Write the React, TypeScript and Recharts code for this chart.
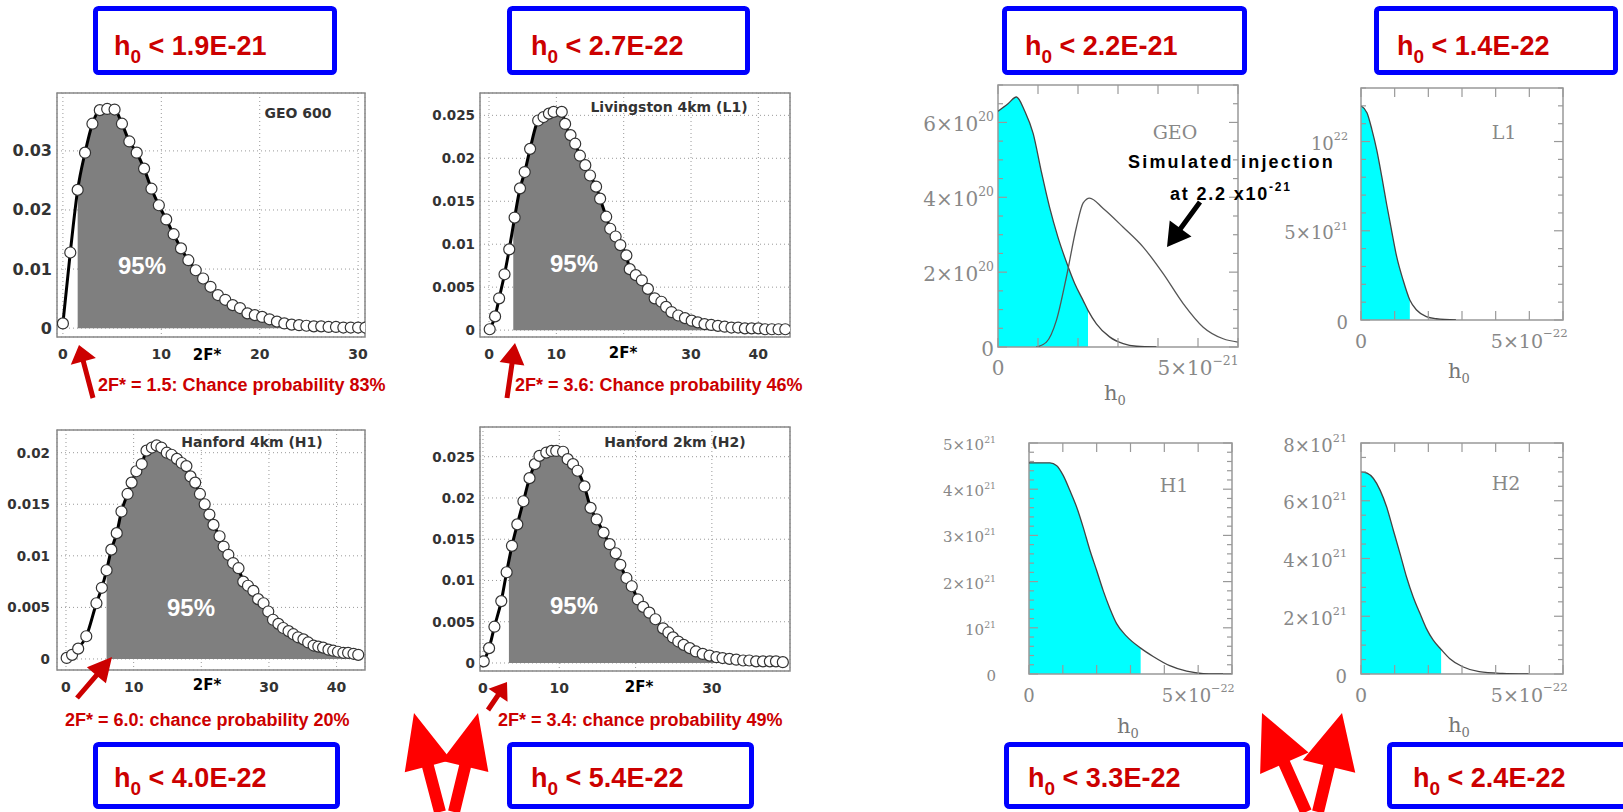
import React from 'react';
import { ComposedChart, Line, Area, XAxis, YAxis, CartesianGrid, ReferenceArea } from 'recharts';

// ---------- DATA: left column, distributions of 2F* (pairs [2F*, probability]) ----------
const geo600Points: [number, number][] = [
  [0, 0.0008], [0.75, 0.0128], [1.5, 0.0234], [2.25, 0.0297], [3, 0.0346], [3.75, 0.0369], [4.5, 0.0371],
  [5.25, 0.037], [6, 0.0346], [6.75, 0.0316], [7.5, 0.0297], [8.25, 0.027], [9, 0.0236], [9.75, 0.0208],
  [10.5, 0.0184], [11.25, 0.0159], [12, 0.0135], [12.75, 0.0115], [13.5, 0.0098], [14.25, 0.0084], [15, 0.007],
  [15.75, 0.0056], [16.5, 0.0048], [17.25, 0.0039], [18, 0.0034], [18.75, 0.0025], [19.5, 0.0022], [20.25, 0.0019],
  [21, 0.0015], [21.75, 0.0011], [22.5, 0.0008], [23.25, 0.0006], [24, 0.0005], [24.75, 0.0004], [25.5, 0.0003],
  [26.25, 0.0003], [27, 0.0002], [27.75, 0.0002], [28.5, 0.0001], [29.25, 0.0001], [30, 0.0001], [30.75, 0.0001],
];
const l1Points: [number, number][] = [
  [0.1, 0.0001], [0.9, 0.0016], [1.5, 0.0037], [2.3, 0.0065], [3.0, 0.0094], [3.8, 0.0131], [4.6, 0.0165],
  [5.3, 0.0184], [6.1, 0.0211], [7.3, 0.0244], [8.1, 0.0248], [8.9, 0.0252], [9.6, 0.0254], [10.8, 0.0254],
  [11.3, 0.024], [12.1, 0.0227], [12.8, 0.0217], [13.5, 0.0203], [14.3, 0.0192], [15.0, 0.018], [15.9, 0.0167],
  [16.5, 0.0153], [17.4, 0.0132], [18.0, 0.0118], [18.8, 0.0109], [19.5, 0.0099], [20.4, 0.0087], [20.9, 0.0071],
  [21.8, 0.0064], [22.7, 0.0058], [23.6, 0.0048], [24.6, 0.0037], [25.6, 0.0033], [26.3, 0.0027], [27.1, 0.0021],
  [28.1, 0.0017], [29.1, 0.0014], [30.1, 0.0011], [31.0, 0.0009], [32.0, 0.0007], [33.0, 0.0006], [34.0, 0.0005],
  [35.0, 0.0004], [36.0, 0.0003], [37.0, 0.0003], [38.0, 0.0002], [39.0, 0.0002], [40.0, 0.0002], [41.0, 0.0001],
  [42.0, 0.0001], [43.0, 0.0001], [44.0, 0.0001],
];
const h1Points: [number, number][] = [
  [0.1, 0.0001], [0.9, 0.0004], [1.8, 0.001], [3.0, 0.0022], [4.5, 0.0054], [5.3, 0.0069], [6.0, 0.0086],
  [6.7, 0.0106], [7.5, 0.0122], [8.2, 0.0143], [9.1, 0.016], [9.7, 0.0171], [10.4, 0.0182], [11.2, 0.0189],
  [11.9, 0.0202], [12.7, 0.0205], [13.4, 0.0207], [14.1, 0.0205], [14.9, 0.02], [15.6, 0.0198], [16.4, 0.0194],
  [17.1, 0.019], [17.8, 0.0187], [18.4, 0.0177], [19.1, 0.0171], [19.8, 0.016], [20.5, 0.015], [21.2, 0.014],
  [21.8, 0.013], [22.7, 0.0119], [23.3, 0.0109], [24.0, 0.0101], [24.7, 0.0093], [25.5, 0.0088], [26.2, 0.0075],
  [26.9, 0.0071], [27.7, 0.0066], [28.4, 0.0058], [29.2, 0.0054], [29.9, 0.0046], [30.6, 0.0038], [31.4, 0.0034],
  [32.1, 0.003], [32.9, 0.0027], [33.6, 0.0024], [34.3, 0.0021], [35.1, 0.0019], [35.8, 0.0016], [36.6, 0.0013],
  [37.3, 0.0012], [38.0, 0.0011], [38.8, 0.0009], [39.5, 0.0008], [40.2, 0.0007], [41.0, 0.0006], [41.7, 0.0006],
  [42.5, 0.0005], [43.2, 0.0004],
];
const h2Points: [number, number][] = [
  [0.1, 0.0002], [0.8, 0.0018], [1.5, 0.0044], [2.4, 0.0075], [3.1, 0.011], [3.8, 0.0142], [4.5, 0.0168],
  [5.3, 0.0196], [6.1, 0.0224], [6.8, 0.0241], [7.4, 0.0251], [8.3, 0.0255], [9.0, 0.0257], [9.6, 0.0257],
  [10.5, 0.0256], [11.1, 0.0247], [11.8, 0.0241], [12.4, 0.0233], [13.3, 0.0214], [14.1, 0.0188], [14.9, 0.0174],
  [15.8, 0.0158], [16.6, 0.0144], [17.4, 0.0133], [18.0, 0.0119], [18.8, 0.0103], [19.5, 0.0093], [20.3, 0.0077],
  [21.0, 0.0068], [21.8, 0.0061], [22.6, 0.0053], [23.6, 0.0042], [24.3, 0.0037], [24.9, 0.0031], [25.6, 0.0026],
  [26.3, 0.0022], [27.1, 0.0018], [27.9, 0.0014], [28.8, 0.0011], [29.7, 0.0009], [30.6, 0.0007], [31.4, 0.0006],
  [32.3, 0.0005], [33.2, 0.0004], [34.1, 0.0003], [34.9, 0.0003], [35.8, 0.0002], [36.7, 0.0002], [37.6, 0.0002],
  [38.4, 0.0002], [39.3, 0.0001],
];
// 2F* thresholds (start of shaded 95% area) and curve height there
const geo600Thr: [number, number] = [1.5, 0.0234];
const l1Thr: [number, number] = [3.6, 0.0124];
const h1Thr: [number, number] = [6.0, 0.0086];
const h2Thr: [number, number] = [3.4, 0.0124];

const geo600XTicks = [0, 10, 20, 30];
const geo600XLabels = ['0', '10', '20', '30'];
const geo600YTicks = [0, 0.01, 0.02, 0.03];
const geo600YLabels = ['0', '0.01', '0.02', '0.03'];
const l1XTicks = [0, 10, 20, 30, 40];
const l1XLabels = ['0', '10', '', '30', '40'];
const l1YTicks = [0, 0.005, 0.01, 0.015, 0.02, 0.025];
const l1YLabels = ['0', '0.005', '0.01', '0.015', '0.02', '0.025'];
const h1XTicks = [0, 10, 20, 30, 40];
const h1XLabels = ['0', '10', '', '30', '40'];
const h1YTicks = [0, 0.005, 0.01, 0.015, 0.02];
const h1YLabels = ['0', '0.005', '0.01', '0.015', '0.02'];
const h2XTicks = [0, 10, 20, 30];
const h2XLabels = ['0', '10', '', '30'];
const h2YTicks = [0, 0.005, 0.01, 0.015, 0.02, 0.025];
const h2YLabels = ['0', '0.005', '0.01', '0.015', '0.02', '0.025'];

// ---------- DATA: right column, posteriors of h0 ----------
// GEO: x in 1e-21, y in 1e20
const geoPosterior: [number, number][] = [
  [0, 6.3], [0.25, 6.5], [0.46, 6.68], [0.67, 6.3], [0.88, 5.7], [1.08, 4.7], [1.29, 3.73], [1.5, 2.93],
  [1.71, 2.27], [1.92, 1.69], [2.13, 1.24], [2.25, 0.98], [2.46, 0.62], [2.79, 0.27], [3.13, 0.09], [3.46, 0.02], [3.96, 0],
];
const geoInjection: [number, number][] = [
  [0.96, 0], [1.21, 0.13], [1.46, 0.71], [1.71, 1.87], [1.96, 3.2], [2.13, 3.85], [2.29, 3.98], [2.63, 3.7],
  [3.13, 3.2], [3.63, 2.67], [4.13, 1.96], [4.63, 1.16], [5.13, 0.53], [5.63, 0.22], [6.0, 0.13],
];
const geoUpper = 2.25;
// L1, H1, H2: x in 1e-22, y in 1e21
const l1Posterior: [number, number][] = [
  [0, 12.0], [0.18, 11.6], [0.32, 10.7], [0.47, 9.5], [0.62, 8.0], [0.76, 6.5], [0.91, 5.0], [1.06, 3.55],
  [1.25, 2.24], [1.45, 1.12], [1.65, 0.56], [1.94, 0.19], [2.24, 0.07], [2.82, 0],
];
const l1Upper = 1.45;
const h1Posterior: [number, number][] = [
  [0, 4.57], [0.62, 4.57], [0.82, 4.51], [1.01, 4.3], [1.21, 3.97], [1.41, 3.61], [1.6, 3.18], [1.8, 2.68],
  [2.0, 2.24], [2.19, 1.81], [2.39, 1.42], [2.59, 1.09], [2.88, 0.82], [3.3, 0.56], [3.67, 0.38], [4.16, 0.18],
  [4.66, 0.06], [5.15, 0.01], [6.0, 0],
];
const h1Upper = 3.3;
const h2Posterior: [number, number][] = [
  [0, 7.0], [0.18, 6.96], [0.37, 6.77], [0.57, 6.36], [0.76, 5.79], [0.96, 4.98], [1.16, 4.17], [1.35, 3.37],
  [1.55, 2.67], [1.75, 2.1], [1.94, 1.58], [2.14, 1.18], [2.38, 0.85], [2.63, 0.54], [3.02, 0.25], [3.51, 0.08],
  [4.2, 0.02], [4.98, 0],
];
const h2Upper = 2.38;

const h0XTicks = [0, 1, 2, 3, 4, 5, 6];
const geoXLabels: Record<number, [string, string]> = { 0: ['0', ''], 5: ['5×10', '−21'] };
const smallXLabels: Record<number, [string, string]> = { 0: ['0', ''], 5: ['5×10', '−22'] };
const geoYTicks = [0, 0.5, 1, 1.5, 2, 2.5, 3, 3.5, 4, 4.5, 5, 5.5, 6, 6.5, 7];
const geoYLabels: Record<number, [string, string]> = { 0: ['0', ''], 2: ['2×10', '20'], 4: ['4×10', '20'], 6: ['6×10', '20'] };
const l1YTicksR = [0, 1, 2, 3, 4, 5, 6, 7, 8, 9, 10, 11, 12, 13];
const l1YLabelsR: Record<number, [string, string]> = { 0: ['0', ''], 5: ['5×10', '21'], 10: ['10', '22'] };
const h1YTicksR = [0, 0.2, 0.4, 0.6, 0.8, 1, 1.2, 1.4, 1.6, 1.8, 2, 2.2, 2.4, 2.6, 2.8, 3, 3.2, 3.4, 3.6, 3.8, 4, 4.2, 4.4, 4.6, 4.8, 5];
const h1YLabelsR: Record<number, [string, string]> = {
  0: ['0', ''], 1: ['10', '21'], 2: ['2×10', '21'], 3: ['3×10', '21'], 4: ['4×10', '21'], 5: ['5×10', '21'],
};
const h2YTicksR = [0, 0.5, 1, 1.5, 2, 2.5, 3, 3.5, 4, 4.5, 5, 5.5, 6, 6.5, 7, 7.5, 8];
const h2YLabelsR: Record<number, [string, string]> = { 0: ['0', ''], 2: ['2×10', '21'], 4: ['4×10', '21'], 6: ['6×10', '21'], 8: ['8×10', '21'] };

// ---------- styling ----------
const SANS = "'Liberation Sans', Arial, sans-serif";
const DV = "'DejaVu Sans', sans-serif";
const SERIF = "'DejaVu Serif', serif";

type Frame = { x: number; y: number; w: number; h: number };
const LYW = 60;
const LXH = 40;
const LMT = 12;
const LMR = 24;
const RYW = 100;
const RXH = 50;
const RMT = 16;
const RMR = 36;

const near = (a: number, b: number) => Math.abs(a - b) < 1e-9;

function LeftPanel(props: {
  frame: Frame; xDomain: [number, number]; yDomain: [number, number];
  xTicks: number[]; xLabels: string[]; yTicks: number[]; yLabels: string[];
  points: [number, number][]; thr: [number, number]; yFont: number; yGap: number;
}) {
  const { frame, xDomain, yDomain, xTicks, xLabels, yTicks, yLabels, points, thr, yFont, yGap } = props;
  const lineData = points.map(([x, y]) => ({ x, y }));
  const fillData = [{ x: thr[0], f: thr[1] }, ...points.filter(([x]) => x > thr[0] + 1e-9).map(([x, y]) => ({ x, f: y }))];
  const xTick = (p: any) => {
    const i = xTicks.findIndex((t) => near(t, p.payload.value));
    const lab = i >= 0 ? xLabels[i] : '';
    return (
      <text x={p.x} y={LMT + frame.h + 17} textAnchor="middle" dominantBaseline="central" fontFamily={DV} fontWeight="bold" fontSize={14} fill="#333">
        {lab}
      </text>
    );
  };
  const yTick = (p: any) => {
    const i = yTicks.findIndex((t) => near(t, p.payload.value));
    const lab = i >= 0 ? yLabels[i] : '';
    return (
      <text x={LYW - yGap} y={p.y} textAnchor="end" dominantBaseline="central" fontFamily={DV} fontWeight="bold" fontSize={yFont} fill="#333">
        {lab}
      </text>
    );
  };
  return (
    <div style={{ position: 'absolute', left: frame.x - LYW, top: frame.y - LMT }}>
      <ComposedChart width={frame.w + LYW + LMR} height={frame.h + LXH + LMT} margin={{ top: LMT, right: LMR, bottom: 0, left: 0 }}>
        <CartesianGrid stroke="#999" strokeDasharray="1 3" />
        <XAxis type="number" dataKey="x" domain={xDomain} ticks={xTicks} interval={0} allowDataOverflow axisLine={false} tickLine={false} height={LXH} tick={xTick} />
        <YAxis type="number" domain={yDomain} ticks={yTicks} interval={0} allowDataOverflow axisLine={false} tickLine={false} width={LYW} tick={yTick} />
        <Area data={fillData} dataKey="f" type="monotone" fill="#7f7f7f" fillOpacity={1} stroke="none" baseValue={0} isAnimationActive={false} />
        <Line data={lineData} dataKey="y" type="monotone" stroke="#000" strokeWidth={3}
          dot={{ r: 5.5, fill: '#fff', stroke: '#333', strokeWidth: 1.2, fillOpacity: 1 }} isAnimationActive={false} />
        <ReferenceArea x1={xDomain[0]} x2={xDomain[1]} y1={yDomain[0]} y2={yDomain[1]} fill="none" stroke="#888" strokeWidth={1.5} ifOverflow="visible" />
      </ComposedChart>
    </div>
  );
}

function RightPanel(props: {
  frame: Frame; yMax: number; yTicks: number[]; yLabels: Record<number, [string, string]>;
  xLabels: Record<number, [string, string]>; posterior: [number, number][]; upper: number;
  extra?: [number, number][]; yFont: number; yGap: number; xFont: number;
}) {
  const { frame, yMax, yTicks, yLabels, xLabels, posterior, upper, extra, yFont, yGap, xFont } = props;
  const lineData = posterior.map(([x, y]) => ({ x, y }));
  const fillData = posterior.filter(([x]) => x <= upper + 1e-9).map(([x, y]) => ({ x, f: y }));
  const extraData = extra ? extra.map(([x, y]) => ({ x, y })) : null;
  const findLab = (m: Record<number, [string, string]>, v: number) => {
    const k = Object.keys(m).find((kk) => near(Number(kk), v));
    return k !== undefined ? m[Number(k)] : null;
  };
  const top = RMT;
  const bottom = RMT + frame.h;
  const xTick = (p: any) => {
    const lab = findLab(xLabels, p.payload.value);
    const x = p.x;
    return (
      <g>
        <line x1={x} x2={x} y1={bottom} y2={bottom - 9} stroke="#999" strokeWidth={1.2} />
        <line x1={x} x2={x} y1={top} y2={top + 9} stroke="#999" strokeWidth={1.2} />
        {lab && (
          <text x={x} y={bottom + 21} textAnchor="middle" dominantBaseline="central" fontFamily={SERIF} fontSize={xFont} fill="#888">
            {lab[0]}
            {lab[1] && <tspan dy={-xFont * 0.4} fontSize={xFont * 0.62}>{lab[1]}</tspan>}
          </text>
        )}
      </g>
    );
  };
  const yTick = (p: any) => {
    const lab = findLab(yLabels, p.payload.value);
    const y = p.y;
    const len = lab ? 9 : 5;
    return (
      <g>
        <line x1={RYW} x2={RYW + len} y1={y} y2={y} stroke="#999" strokeWidth={1.2} />
        <line x1={RYW + frame.w - len} x2={RYW + frame.w} y1={y} y2={y} stroke="#999" strokeWidth={1.2} />
        {lab && (
          <text x={RYW - yGap} y={y + 2} textAnchor="end" dominantBaseline="central" fontFamily={SERIF} fontSize={yFont} fill="#888">
            {lab[0]}
            {lab[1] && <tspan dy={-yFont * 0.4} fontSize={yFont * 0.62}>{lab[1]}</tspan>}
          </text>
        )}
      </g>
    );
  };
  return (
    <div style={{ position: 'absolute', left: frame.x - RYW, top: frame.y - RMT }}>
      <ComposedChart width={frame.w + RYW + RMR} height={frame.h + RXH + RMT} margin={{ top: RMT, right: RMR, bottom: 0, left: 0 }}>
        <XAxis type="number" dataKey="x" domain={[0, 6]} ticks={h0XTicks} interval={0} allowDataOverflow axisLine={false} tickLine={false} height={RXH} tick={xTick} />
        <YAxis type="number" domain={[0, yMax]} ticks={yTicks} interval={0} allowDataOverflow axisLine={false} tickLine={false} width={RYW} tick={yTick} />
        <Area data={fillData} dataKey="f" type="monotone" fill="#00ffff" fillOpacity={1} stroke="none" baseValue={0} isAnimationActive={false} />
        <Line data={lineData} dataKey="y" type="monotone" stroke="#444" strokeWidth={1.3} dot={false} isAnimationActive={false} />
        {extraData && (
          <Line data={extraData} dataKey="y" type="monotone" stroke="#555" strokeWidth={1.3} dot={false} isAnimationActive={false} />
        )}
        <ReferenceArea x1={0} x2={6} y1={0} y2={yMax} fill="none" stroke="#999" strokeWidth={1.5} ifOverflow="visible" />
      </ComposedChart>
    </div>
  );
}

function arrowPts(tail: [number, number], tip: [number, number], sw: number, hl: number, hw: number) {
  const dx = tip[0] - tail[0];
  const dy = tip[1] - tail[1];
  const L = Math.hypot(dx, dy);
  const ux = dx / L, uy = dy / L;
  const px = -uy, py = ux;
  const bx = tip[0] - ux * hl, by = tip[1] - uy * hl;
  const pts = [
    [tail[0] + px * sw / 2, tail[1] + py * sw / 2],
    [bx + px * sw / 2, by + py * sw / 2],
    [bx + px * hw / 2, by + py * hw / 2],
    [tip[0], tip[1]],
    [bx - px * hw / 2, by - py * hw / 2],
    [bx - px * sw / 2, by - py * sw / 2],
    [tail[0] - px * sw / 2, tail[1] - py * sw / 2],
  ];
  return pts.map((p) => p.join(',')).join(' ');
}

function BlueBox({ x, y, w, h }: { x: number; y: number; w: number; h: number }) {
  return (
    <rect x={x + 2.5} y={y + 2.5} width={w - 5} height={h - 5} rx={3} fill="none" stroke="#0000ff" strokeWidth={5} />
  );
}

function BoxText({ x, y, text }: { x: number; y: number; text: string }) {
  return (
    <text x={x} y={y} fontFamily={SANS} fontWeight="bold" fontSize={27} fill="#cc0000">
      h<tspan dy={8} fontSize={19}>0</tspan>
      <tspan dy={-8}>{text}</tspan>
    </text>
  );
}

const topBoxes = [
  { x: 93, y: 6, w: 244, h: 69, tx: 114, text: ' < 1.9E-21' },
  { x: 507, y: 6, w: 243, h: 69, tx: 531, text: ' < 2.7E-22' },
  { x: 1002, y: 6, w: 245, h: 69, tx: 1025, text: ' < 2.2E-21' },
  { x: 1374, y: 6, w: 244, h: 69, tx: 1397, text: ' < 1.4E-22' },
];
const bottomBoxes = [
  { x: 93, y: 742, w: 247, h: 67, tx: 114, text: ' < 4.0E-22' },
  { x: 507, y: 742, w: 247, h: 67, tx: 531, text: ' < 5.4E-22' },
  { x: 1004, y: 742, w: 246, h: 67, tx: 1028, text: ' < 3.3E-22' },
  { x: 1387, y: 742, w: 245, h: 67, tx: 1413, text: ' < 2.4E-22' },
];

export default function App() {
  return (
    <div style={{ position: 'absolute', left: 0, top: 0, width: 1623, height: 812, background: '#fff', overflow: 'hidden' }}>
      <LeftPanel frame={{ x: 57, y: 93, w: 308, h: 244 }} xDomain={[-0.6, 30.7]} yDomain={[-0.0015, 0.0398]}
        xTicks={geo600XTicks} xLabels={geo600XLabels} yTicks={geo600YTicks} yLabels={geo600YLabels}
        points={geo600Points} thr={geo600Thr} yFont={16} yGap={5} />
      <LeftPanel frame={{ x: 480, y: 93, w: 310, h: 244 }} xDomain={[-1.34, 44.7]} yDomain={[-0.0008, 0.0276]}
        xTicks={l1XTicks} xLabels={l1XLabels} yTicks={l1YTicks} yLabels={l1YLabels}
        points={l1Points} thr={l1Thr} yFont={13.5} yGap={5} />
      <LeftPanel frame={{ x: 57, y: 430, w: 308, h: 240 }} xDomain={[-1.33, 44.2]} yDomain={[-0.00107, 0.0222]}
        xTicks={h1XTicks} xLabels={h1XLabels} yTicks={h1YTicks} yLabels={h1YLabels}
        points={h1Points} thr={h1Thr} yFont={13.5} yGap={7} />
      <LeftPanel frame={{ x: 480, y: 427, w: 310, h: 244 }} xDomain={[-0.39, 40.24]} yDomain={[-0.00097, 0.0286]}
        xTicks={h2XTicks} xLabels={h2XLabels} yTicks={h2YTicks} yLabels={h2YLabels}
        points={h2Points} thr={h2Thr} yFont={13.5} yGap={5} />

      <RightPanel frame={{ x: 998, y: 85, w: 240, h: 262 }} yMax={7} yTicks={geoYTicks} yLabels={geoYLabels}
        xLabels={geoXLabels} posterior={geoPosterior} upper={geoUpper} extra={geoInjection} yFont={20} yGap={4} xFont={20} />
      <RightPanel frame={{ x: 1361, y: 88, w: 202, h: 232 }} yMax={13} yTicks={l1YTicksR} yLabels={l1YLabelsR}
        xLabels={smallXLabels} posterior={l1Posterior} upper={l1Upper} yFont={18} yGap={13} xFont={19} />
      <RightPanel frame={{ x: 1029, y: 443, w: 203, h: 231 }} yMax={5} yTicks={h1YTicksR} yLabels={h1YLabelsR}
        xLabels={smallXLabels} posterior={h1Posterior} upper={h1Upper} yFont={15} yGap={33} xFont={18} />
      <RightPanel frame={{ x: 1361, y: 443, w: 202, h: 231 }} yMax={8} yTicks={h2YTicksR} yLabels={h2YLabelsR}
        xLabels={smallXLabels} posterior={h2Posterior} upper={h2Upper} yFont={18} yGap={14} xFont={19} />

      <svg width={1623} height={812} style={{ position: 'absolute', left: 0, top: 0, pointerEvents: 'none' }}>
        {[...topBoxes, ...bottomBoxes].map((b, i) => (
          <g key={i}>
            <BlueBox x={b.x} y={b.y} w={b.w} h={b.h} />
            <BoxText x={b.tx} y={b.y < 100 ? 55 : 787} text={b.text} />
          </g>
        ))}

        {/* left panel titles */}
        <g fontFamily={DV} fontWeight="bold" fontSize={14} fill="#333" textAnchor="middle" dominantBaseline="central">
          <text x={298} y={113}>GEO 600</text>
          <text x={669} y={107}>Livingston 4km (L1)</text>
          <text x={252} y={442}>Hanford 4km (H1)</text>
          <text x={675} y={442}>Hanford 2km (H2)</text>
        </g>
        <g fontFamily={SANS} fontWeight="bold" fontSize={24} fill="#fff" textAnchor="middle" dominantBaseline="central">
          <text x={142} y={265}>95%</text>
          <text x={574} y={263}>95%</text>
          <text x={191} y={607}>95%</text>
          <text x={574} y={605}>95%</text>
        </g>
        <g fontFamily={DV} fontWeight="bold" fontSize={15} fill="#000" textAnchor="middle" dominantBaseline="central">
          <text x={207} y={355}>2F*</text>
          <text x={623} y={353}>2F*</text>
          <text x={207} y={685}>2F*</text>
          <text x={639} y={687}>2F*</text>
        </g>

        {/* red annotations */}
        <g fill="#cc0000">
          <polygon points={arrowPts([93, 398], [79, 345], 5, 17, 26)} />
          <polygon points={arrowPts([507, 398], [515, 343], 5, 21, 25)} />
          <polygon points={arrowPts([77, 698], [112, 657], 5, 24, 25)} />
          <polygon points={arrowPts([488, 710], [507, 682], 5, 16, 23)} />
        </g>
        <g fontFamily={SANS} fontWeight="bold" fontSize={18} fill="#cc0000">
          <text x={98} y={391}>2F* = 1.5: Chance probability 83%</text>
          <text x={515} y={391}>2F* = 3.6: Chance probability 46%</text>
          <text x={65} y={726}>2F* = 6.0: chance probability 20%</text>
          <text x={498} y={726}>2F* = 3.4: chance probability 49%</text>
        </g>

        {/* big red arrows */}
        <g fill="#ff0000">
          <polygon points={arrowPts([440, 812], [414, 713], 12, 55, 48)} />
          <polygon points={arrowPts([454, 812], [478, 713], 12, 55, 48)} />
          <polygon points={arrowPts([1306, 812], [1262, 713], 12, 55, 53)} />
          <polygon points={arrowPts([1318, 812], [1342, 713], 12, 55, 54)} />
        </g>

        {/* right panel labels */}
        <g fontFamily={SERIF} fontSize={19} fill="#888" textAnchor="middle" dominantBaseline="central">
          <text x={1175} y={132}>GEO</text>
          <text x={1504} y={132}>L1</text>
          <text x={1174} y={485}>H1</text>
          <text x={1506} y={483}>H2</text>
        </g>
        <g fontFamily={SERIF} fontSize={21} fill="#777">
          {[[1104, 400], [1448, 378], [1117, 733], [1448, 732]].map(([x, y], i) => (
            <text key={i} x={x} y={y}>h<tspan dy={5} fontSize={13}>0</tspan></text>
          ))}
        </g>

        {/* simulated injection annotation */}
        <text x={1128} y={168} fontFamily={SANS} fontWeight="bold" fontSize={18} letterSpacing={2.2} fill="#000">Simulated injection</text>
        <text x={1170} y={200} fontFamily={SANS} fontWeight="bold" fontSize={18} letterSpacing={1.8} fill="#000">
          at 2.2 x10<tspan dy={-9} fontSize={12}>-21</tspan>
        </text>
        <polygon points={arrowPts([1200, 202], [1167, 247], 5, 23, 27)} fill="#000" />
      </svg>
    </div>
  );
}
